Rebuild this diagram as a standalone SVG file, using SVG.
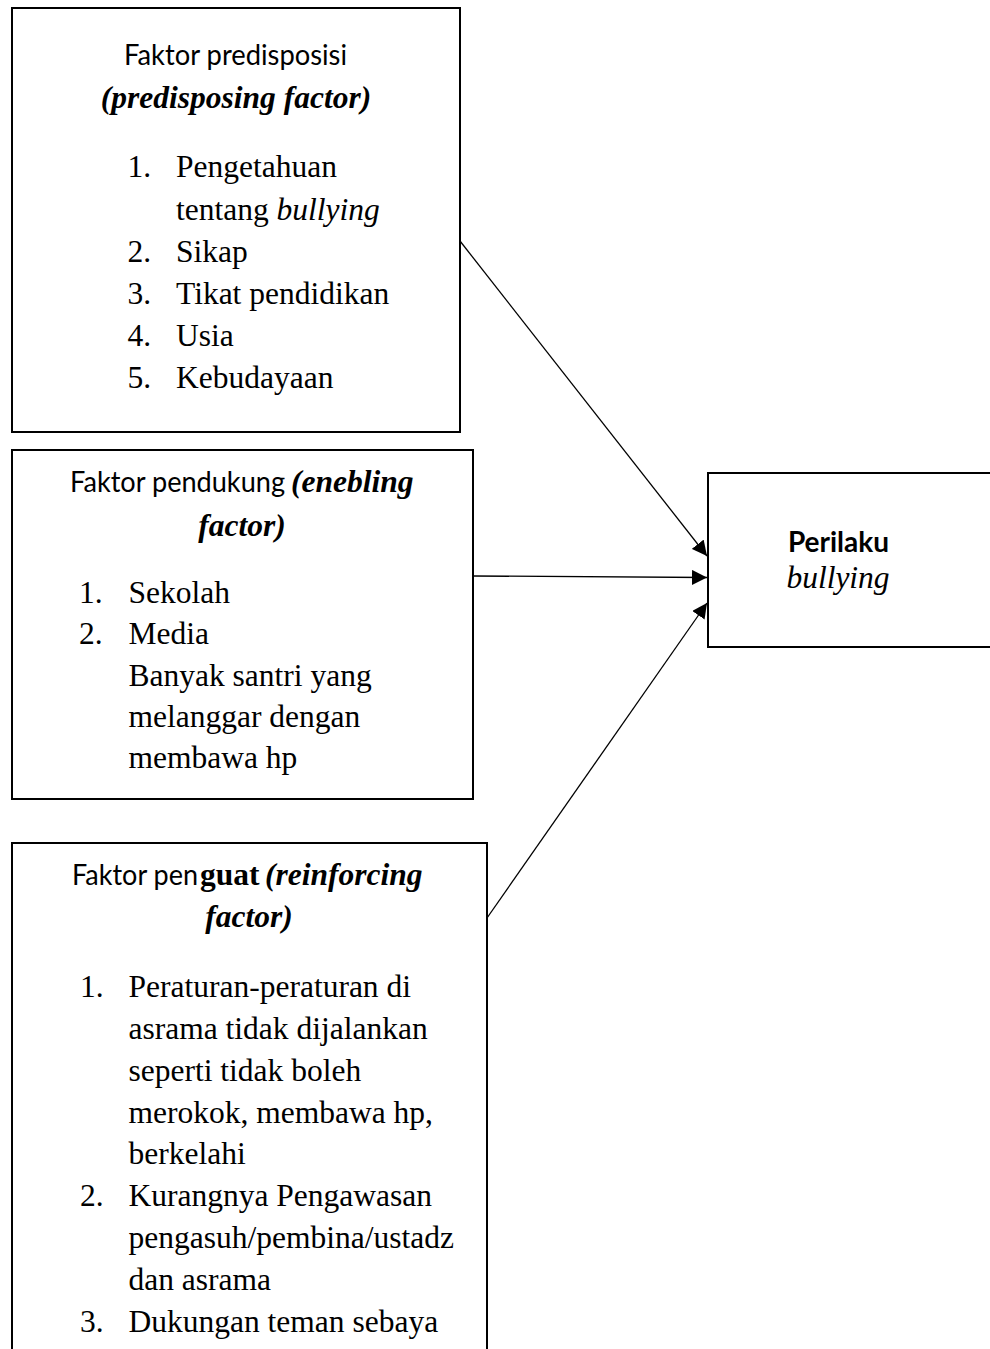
<svg xmlns="http://www.w3.org/2000/svg" width="990" height="1349" viewBox="0 0 990 1349">
<style>
.box{fill:#fff;stroke:#000;stroke-width:2}
.sans{font-family:Lato,"Liberation Sans",sans-serif;font-size:28px;fill:#000}
.serif{font-family:"Liberation Serif","Times New Roman",serif;font-size:31.5px;fill:#000}
.bi{font-weight:bold;font-style:italic}
.it{font-style:italic}
.b{font-weight:bold}
.conn{stroke:#000;stroke-width:1.3;fill:none}
</style>
<defs>
<marker id="arr" viewBox="0 0 10 10" refX="10" refY="5" markerUnits="userSpaceOnUse" markerWidth="15" markerHeight="15" orient="auto">
<path d="M0,0 L10,5 L0,10 z" fill="#000"/>
</marker>
</defs>
<rect width="990" height="1349" fill="#fff"/>
<g id="node-predisposing">
<rect class="box" x="12" y="8" width="448" height="424"/>
<text class="sans" x="124" y="65" textLength="223" lengthAdjust="spacingAndGlyphs">Faktor predisposisi</text>
<text class="serif bi" x="236" y="108" text-anchor="middle">(predisposing factor)</text>
<text class="serif" x="127.5" y="177">1.</text>
<text class="serif" x="176" y="177">Pengetahuan</text>
<text class="serif" x="176" y="220">tentang <tspan class="it">bullying</tspan></text>
<text class="serif" x="127.5" y="262">2.</text>
<text class="serif" x="176" y="262">Sikap</text>
<text class="serif" x="127.5" y="304">3.</text>
<text class="serif" x="176" y="304">Tikat pendidikan</text>
<text class="serif" x="127.5" y="346">4.</text>
<text class="serif" x="176" y="346">Usia</text>
<text class="serif" x="127.5" y="388">5.</text>
<text class="serif" x="176" y="388">Kebudayaan</text>
</g>
<g id="node-enabling">
<rect class="box" x="12" y="450" width="461" height="349"/>
<text class="sans" x="70" y="492" textLength="215" lengthAdjust="spacingAndGlyphs">Faktor pendukung</text>
<text class="serif bi" x="291" y="492">(enebling</text>
<text class="serif bi" x="242" y="536" text-anchor="middle">factor)</text>
<text class="serif" x="79" y="603">1.</text>
<text class="serif" x="128.5" y="603">Sekolah</text>
<text class="serif" x="79" y="644">2.</text>
<text class="serif" x="128.5" y="644">Media</text>
<text class="serif" x="128.5" y="685.5">Banyak santri yang</text>
<text class="serif" x="128.5" y="727">melanggar dengan</text>
<text class="serif" x="128.5" y="768">membawa hp</text>
</g>
<g id="node-reinforcing">
<rect class="box" x="12" y="843" width="475" height="530"/>
<text class="sans" x="72" y="885" textLength="126" lengthAdjust="spacingAndGlyphs">Faktor pen</text>
<text class="serif b" x="200" y="885">guat</text>
<text class="serif bi" x="265" y="885">(reinforcing</text>
<text class="serif bi" x="249" y="927" text-anchor="middle">factor)</text>
<text class="serif" x="80" y="997">1.</text>
<text class="serif" x="128.5" y="997">Peraturan-peraturan di</text>
<text class="serif" x="128.5" y="1039">asrama tidak dijalankan</text>
<text class="serif" x="128.5" y="1081">seperti tidak boleh</text>
<text class="serif" x="128.5" y="1122.5">merokok, membawa hp,</text>
<text class="serif" x="128.5" y="1164">berkelahi</text>
<text class="serif" x="80" y="1206">2.</text>
<text class="serif" x="128.5" y="1206">Kurangnya Pengawasan</text>
<text class="serif" x="128.5" y="1248">pengasuh/pembina/ustadz</text>
<text class="serif" x="128.5" y="1290">dan asrama</text>
<text class="serif" x="80" y="1332">3.</text>
<text class="serif" x="128.5" y="1332">Dukungan teman sebaya</text>
</g>
<g id="node-behavior">
<rect class="box" x="708" y="473" width="300" height="174"/>
<text class="sans b" x="838.5" y="552" text-anchor="middle">Perilaku</text>
<text class="serif it" x="838" y="588" text-anchor="middle">bullying</text>
</g>
<g id="connectors">
<line class="conn" x1="460" y1="241" x2="707" y2="556" marker-end="url(#arr)"/>
<line class="conn" x1="473" y1="576" x2="707" y2="577.5" marker-end="url(#arr)"/>
<line class="conn" x1="487" y1="918" x2="707" y2="603" marker-end="url(#arr)"/>
</g>
</svg>
